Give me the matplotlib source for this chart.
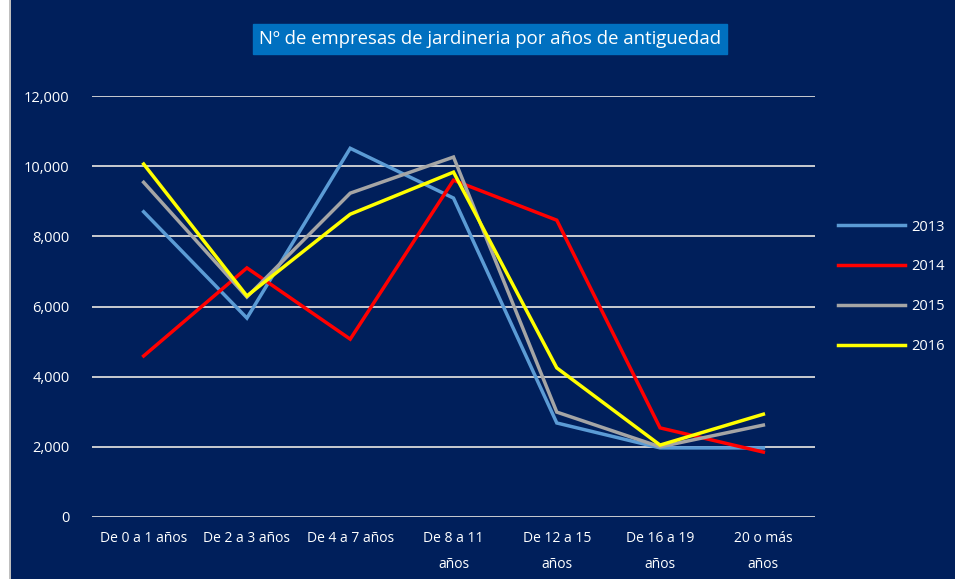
import matplotlib.pyplot as plt
import matplotlib.patches as mpatches
import numpy as np

categorias = ['De 0 a 1 años', 'De 2 a 3 años', 'De 4 a 7 años', 'De 8 a 11\naños',
              'De 12 a 15\naños', 'De 16 a 19\naños', '20 o más\naños']
y2013 = [8700, 5670, 10510, 9090, 2680, 1970, 1970]
y2014 = [4590, 7100, 5070, 9600, 8460, 2540, 1850]
y2015 = [9540, 6270, 9230, 10260, 2990, 2000, 2620]
y2016 = [10060, 6300, 8630, 9830, 4250, 2050, 2930]
series = {'2013': y2013, '2014': y2014, '2015': y2015, '2016': y2016}
colores = {'2013': '#5B9BD5', '2014': '#FF0000', '2015': '#A5A5A5', '2016': '#FFFF00'}

navy = '#001F5B'
plt.rcParams['font.family'] = ['Open Sans', 'DejaVu Sans']

fig = plt.figure(figsize=(9.55, 5.79), dpi=100, facecolor=navy)
# borde blanco a la izquierda
fig.patches.append(mpatches.Rectangle((0, 0), 9 / 955, 1, transform=fig.transFigure,
                                      facecolor='white', edgecolor='none', zorder=-5))
fig.patches.append(mpatches.Rectangle((9 / 955, 0), 1.5 / 955, 1, transform=fig.transFigure,
                                      facecolor='#BFBFBF', edgecolor='none', zorder=-5))

ax = fig.add_axes([92 / 955, 1 - 517 / 579, (815 - 92) / 955, (517 - 96) / 579])
ax.set_facecolor(navy)
x = np.arange(len(categorias))
for nombre, vals in series.items():
    ax.plot(x, vals, color=colores[nombre], lw=2.5, label=nombre, solid_joinstyle='miter')

ax.set_xlim(-0.5, 6.5)
ax.set_ylim(0, 12000)
ax.set_yticks(range(0, 12001, 2000))
ax.set_yticklabels([f'{v:,}' for v in range(0, 12001, 2000)])
ax.set_xticks(x)
ax.set_xticklabels(categorias)
ax.grid(axis='y', color='#D9D9D9', lw=1.3)
ax.set_axisbelow(True)
for s in ax.spines.values():
    s.set_visible(False)
ax.tick_params(axis='y', length=0, pad=16, colors='white', labelsize=10.5)
ax.tick_params(axis='x', length=0, pad=10, colors='white', labelsize=10)
for lbl in ax.get_xticklabels():
    lbl.set_linespacing(2.0)

leg = ax.legend(loc='center left', bbox_to_anchor=(1.014, 0.547), frameon=False,
                labelcolor='white', fontsize=10.5, handlelength=4.6, handletextpad=0.4,
                labelspacing=1.7)

fig.text(490 / 955, 1 - 39 / 579, 'Nº de empresas de jardineria por años de antiguedad',
         color='white', fontsize=13.3, ha='center', va='center',
         bbox=dict(boxstyle='square,pad=0.33', facecolor='#0070C0', edgecolor='#0070C0'))

fig.savefig('out.png', dpi=100, facecolor=fig.get_facecolor())
